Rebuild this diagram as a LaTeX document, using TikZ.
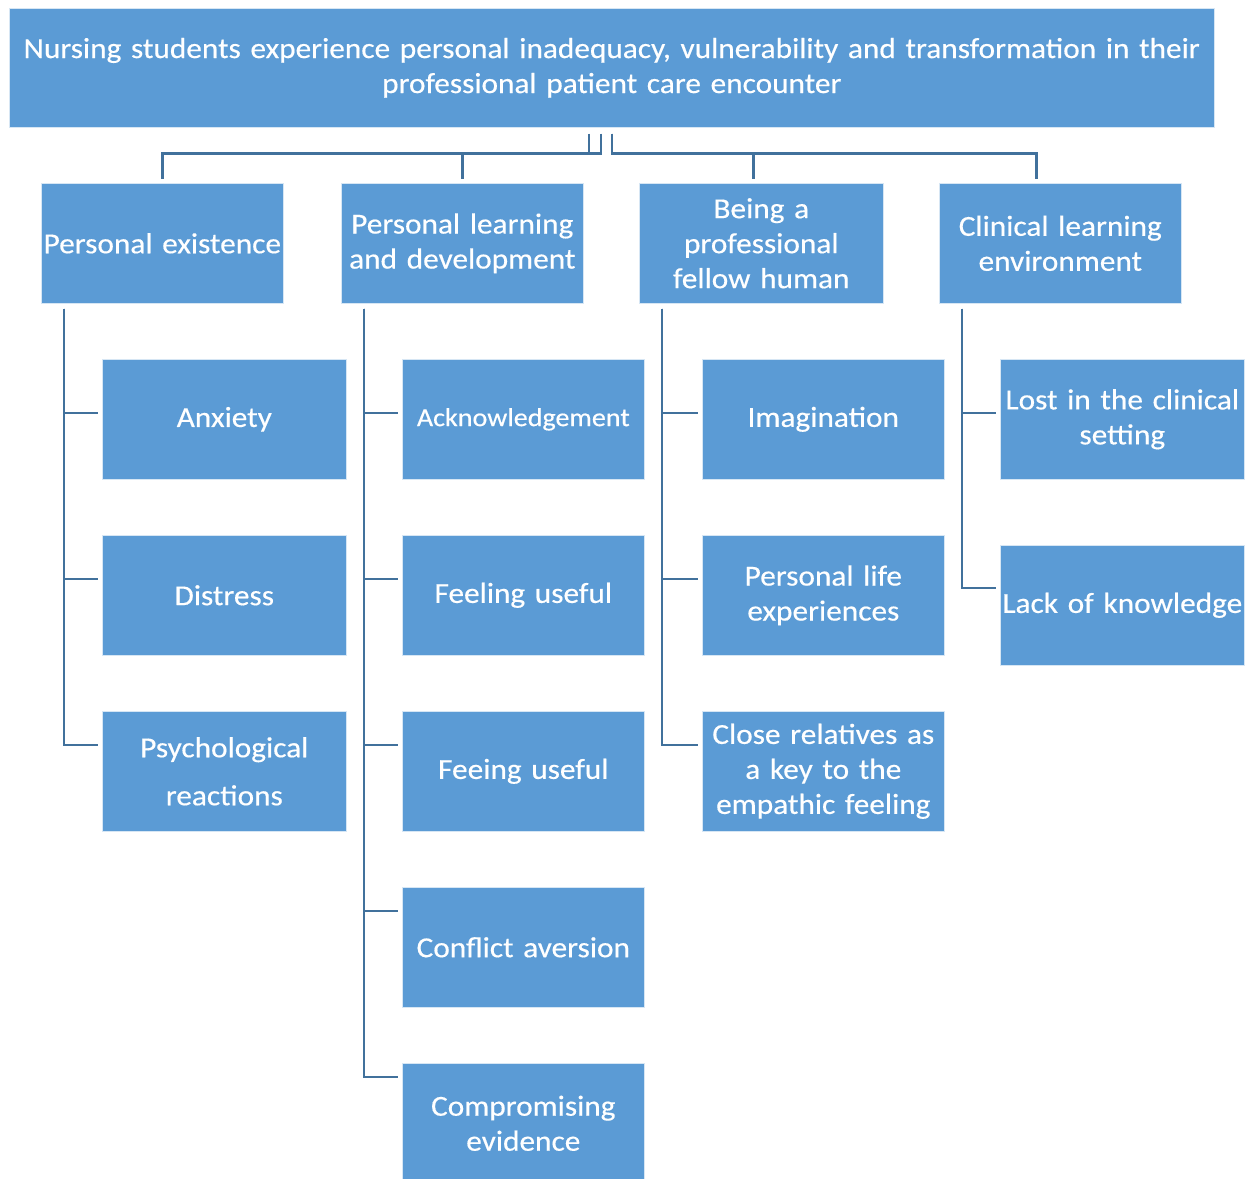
\documentclass[tikz,border=0pt]{standalone}
\usepackage{fontspec}
\setmainfont{Carlito}[FakeStretch=1.08, FakeBold=0.4]
\definecolor{boxblue}{HTML}{5B9BD5}
\definecolor{lineblue}{HTML}{41719C}
\begin{document}
\begin{tikzpicture}[x=1pt,y=-1pt,
  box/.style={fill=boxblue, draw=white!75!boxblue, line width=0.6pt, text=white, align=center,
    inner sep=0pt, anchor=north west, minimum height=120pt,
    font=\fontsize{29}{35}\selectfont},
  conn/.style={draw=lineblue, line width=2.6pt}]
\useasboundingbox (0,0) rectangle (1252,1178);
% root
\node[box, text width=1205pt, minimum height=119pt] (root) at (9,8)
  {Nursing students experience personal inadequacy, vulnerability and transformation in their\\professional patient care encounter};
% level 1
\node[box, text width=242pt] (pe) at (41,183) {Personal existence};
\node[box, text width=242pt] (pl) at (341,183) {Personal learning\\and development};
\node[box, text width=244pt] (bp) at (639,183) {Being a\\professional\\fellow human};
\node[box, text width=242pt] (cl) at (939,183) {Clinical learning\\environment};
% column 1
\node[box, text width=244pt] (anx) at (102,359) {Anxiety};
\node[box, text width=244pt] (dis) at (102,535) {Distress};
\node[box, text width=244pt] (psy) at (102,711) {Psychological\\[13pt]reactions};
% column 2
\node[box, text width=242pt] (ack) at (402,359) {\fontsize{26}{30}\selectfont Acknowledgement};
\node[box, text width=242pt] (fu1) at (402,535) {Feeling useful};
\node[box, text width=242pt] (fu2) at (402,711) {Feeing useful};
\node[box, text width=242pt] (con) at (402,887) {Conflict aversion};
\node[box, text width=242pt] (com) at (402,1063) {Compromising\\evidence};
% column 3
\node[box, text width=242pt] (ima) at (702,359) {Imagination};
\node[box, text width=242pt] (pli) at (702,535) {Personal life\\experiences};
\node[box, text width=242pt] (clo) at (702,711) {Close relatives as\\a key to the\\empathic feeling};
% column 4
\node[box, text width=244pt] (los) at (1000,359) {Lost in the clinical\\setting};
\node[box, text width=244pt] (lac) at (1000,545) {Lack of knowledge};
% top connectors
\draw[conn] ([xshift=-23pt,yshift=-6pt]root.south) -- ++(0pt,-20pt) -| ([yshift=4pt]pe.north);
\draw[conn] ([xshift=-11pt,yshift=-6pt]root.south) -- ++(0pt,-20pt) -| ([yshift=4pt]pl.north);
\draw[conn] ([yshift=-6pt]root.south) -- ++(0pt,-20pt) -| ([xshift=-8pt,yshift=4pt]bp.north);
\draw[conn] ([yshift=-6pt]root.south) -- ++(0pt,-20pt) -| ([xshift=-24pt,yshift=4pt]cl.north);
% column connectors
\draw[conn] ([xshift=23pt,yshift=-5pt]pe.south west) |- ([xshift=-4pt,yshift=-54pt]anx.north west);
\draw[conn] ([xshift=23pt,yshift=-5pt]pe.south west) |- ([xshift=-4pt,yshift=-44pt]dis.north west);
\draw[conn] ([xshift=23pt,yshift=-5pt]pe.south west) |- ([xshift=-4pt,yshift=-34pt]psy.north west);
\draw[conn] ([xshift=23pt,yshift=-5pt]pl.south west) |- ([xshift=-4pt,yshift=-54pt]ack.north west);
\draw[conn] ([xshift=23pt,yshift=-5pt]pl.south west) |- ([xshift=-4pt,yshift=-44pt]fu1.north west);
\draw[conn] ([xshift=23pt,yshift=-5pt]pl.south west) |- ([xshift=-4pt,yshift=-34pt]fu2.north west);
\draw[conn] ([xshift=23pt,yshift=-5pt]pl.south west) |- ([xshift=-4pt,yshift=-24pt]con.north west);
\draw[conn] ([xshift=23pt,yshift=-5pt]pl.south west) |- ([xshift=-4pt,yshift=-14pt]com.north west);
\draw[conn] ([xshift=23pt,yshift=-5pt]bp.south west) |- ([xshift=-4pt,yshift=-54pt]ima.north west);
\draw[conn] ([xshift=23pt,yshift=-5pt]bp.south west) |- ([xshift=-4pt,yshift=-44pt]pli.north west);
\draw[conn] ([xshift=23pt,yshift=-5pt]bp.south west) |- ([xshift=-4pt,yshift=-34pt]clo.north west);
\draw[conn] ([xshift=23pt,yshift=-5pt]cl.south west) |- ([xshift=-4pt,yshift=-54pt]los.north west);
\draw[conn] ([xshift=23pt,yshift=-5pt]cl.south west) |- ([xshift=-4pt,yshift=-43pt]lac.north west);
\end{tikzpicture}
\end{document}
